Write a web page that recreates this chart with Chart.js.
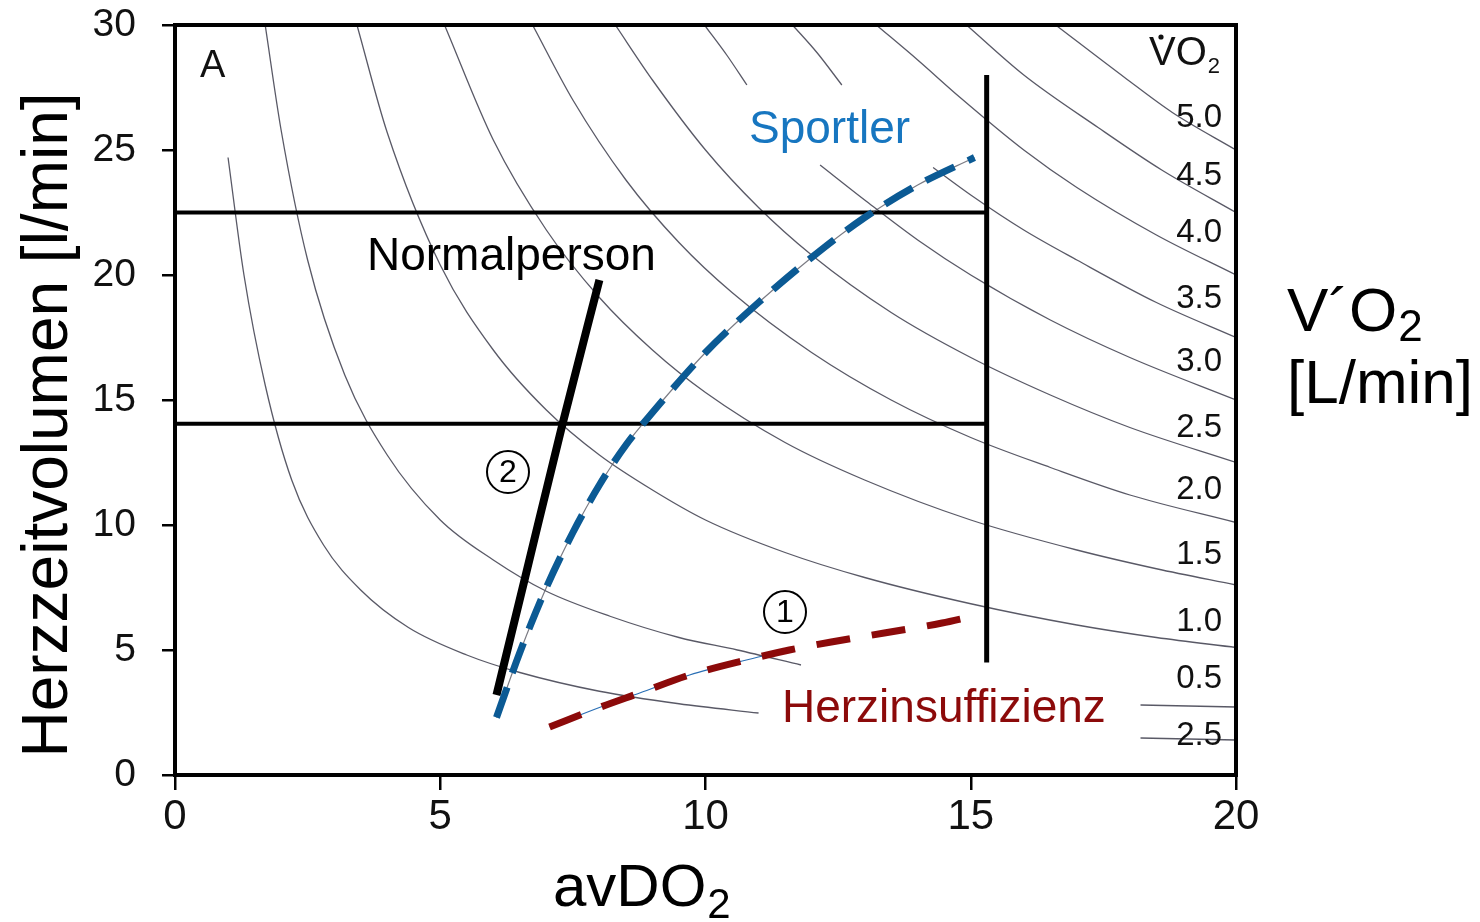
<!DOCTYPE html>
<html>
<head>
<meta charset="utf-8">
<script src="https://cdn.jsdelivr.net/npm/chart.js@4.4.1/dist/chart.umd.min.js"></script>
<style>
  html, body { margin: 0; padding: 0; background: #fff; }
  canvas { display: block; }
</style>
</head>
<body>
<canvas id="chart" width="1480" height="922"></canvas>
<script>
// Axis ticks
const xTicks = [0, 5, 10, 15, 20];
const yTicks = [0, 5, 10, 15, 20, 25, 30];

// VO2 isopleths, [avDO2, HZV]; null = line interrupted
const iso025 = [[1.0, 24.7], [1.3, 20.0], [1.7, 15.6], [2.2, 11.8], [2.8, 9.2], [3.5, 7.4], [4.4, 5.9],
    [5.5, 4.8], [6.5, 4.1], [8.0, 3.35], [9.5, 2.85], [11.0, 2.48], null, [18.2, 1.48], [20, 1.4]];
const iso05 = [[1.7, 30], [2.0, 25.8], [2.5, 20.6], [3.2, 16.0], [4.0, 12.8], [5.0, 10.2], [6.0, 8.6],
    [7.0, 7.35], [8.2, 6.35], [9.5, 5.5], [10.6, 5.0], [11.8, 4.4], null, [18.2, 2.8], [20, 2.72]];
const iso10 = [[3.43, 30], [4.0, 25.7], [5.0, 20.4], [6.0, 17.0], [7.0, 14.6], [8.0, 12.8], [9.0, 11.4],
    [10.0, 10.2], [11.5, 8.9], [13.0, 7.9], [15.0, 6.85], [17.0, 6.0], [18.5, 5.5], [20, 5.1]];
const iso15 = [[5.08, 30], [6.0, 25.4], [7.0, 21.8], [8.0, 19.1], [9.0, 17.0], [10.0, 15.3], [11.5, 13.3],
    [13.0, 11.8], [15.0, 10.2], [17.0, 9.0], [18.5, 8.25], [20, 7.6]];
const iso20 = [[6.74, 30], [7.5, 27.0], [8.5, 23.8], [9.5, 21.3], [10.5, 19.3], [12.0, 16.9], [13.5, 15.0],
    [15.0, 13.5], [16.5, 12.3], [18.0, 11.2], [20, 10.1]];
const iso25 = [[8.3, 30], [9.0, 27.8], [10.0, 25.0], [11.0, 22.7], [12.0, 20.8], [13.5, 18.5], [15.0, 16.7],
    [16.5, 15.2], [18.0, 13.9], [20, 12.5]];
const iso30 = [[9.98, 30], [10.4, 28.8], [10.78, 27.6], null, [12.16, 24.4], [13.0, 23.0], [14.0, 21.4],
    [15.0, 20.0], [16.5, 18.2], [18.0, 16.7], [20, 15.0]];
const iso35 = [[11.64, 30], [12.1, 28.9], [12.57, 27.6], null, [14.29, 24.3], [15.0, 23.2], [16.0, 21.8],
    [17.0, 20.6], [18.5, 18.9], [20, 17.5]];
const iso40 = [[13.22, 30], [14.0, 28.6], [14.8, 27.1], [16.0, 25.0], [17.0, 23.5], [18.5, 21.6], [20, 20.0]];
const iso45 = [[14.92, 30], [16.0, 28.0], [17.4, 25.9], [18.6, 24.2], [20, 22.5]];
const iso50 = [[16.6, 30], [17.9, 27.9], [18.8, 26.5], [20, 25.0]];

// Curves
const normalperson = [[6.06, 3.2], [6.6, 7.9], [7.3, 14.0], [8.0, 19.8]];
const sportler = [[6.06, 2.3], [6.5, 4.9], [7.0, 7.5], [7.5, 9.7], [8.0, 11.6], [8.5, 13.2], [9.0, 14.5],
    [10.0, 16.9], [11.0, 18.9], [12.0, 20.7], [13.0, 22.3], [14.0, 23.6], [15.07, 24.7]];
const herzinsuffizienz = [[7.06, 1.92], [8.0, 2.7], [8.76, 3.28], [9.7, 4.0], [10.77, 4.6], [11.58, 5.0],
    [12.37, 5.32], [13.37, 5.68], [14.46, 6.08], [14.97, 6.32]];

// Limit lines
const hzvMax = [[0, 22.5], [15.3, 22.5]];
const hzvNorm = [[0, 14.05], [15.3, 14.05]];
const avdo2Max = [[15.3, 4.5], [15.3, 28.0]];

// Isopleth labels (right side, top to bottom)
const vo2Labels = ['5.0', '4.5', '4.0', '3.5', '3.0', '2.5', '2.0', '1.5', '1.0', '0.5', '2.5'];

const FONT = "'Liberation Sans', Arial, sans-serif";

function pts(arr) {
    return arr.map(p => p ? { x: p[0], y: p[1] } : { x: null, y: null });
}

function isoSet(arr) {
    return {
        data: pts(arr),
        showLine: true,
        borderColor: 'rgba(60, 60, 75, 0.85)',
        borderWidth: 1.3,
        pointRadius: 0,
        cubicInterpolationMode: 'monotone',
        spanGaps: false,
        order: 10
    };
}

const annotations = {
    id: 'annotations',
    afterDatasetsDraw(chart) {
        const { ctx, chartArea: a } = chart;
        ctx.save();

        // plot frame
        ctx.strokeStyle = '#000';
        ctx.lineWidth = 4;
        ctx.strokeRect(a.left, a.top, a.right - a.left, a.bottom - a.top);

        function text(str, x, y, size, color, align) {
            ctx.font = size + 'px ' + FONT;
            ctx.fillStyle = color || '#000';
            ctx.textAlign = align || 'left';
            ctx.textBaseline = 'alphabetic';
            ctx.fillText(str, x, y);
            return x + ctx.measureText(str).width;
        }

        // panel letter
        text('A', 200, 77, 38, '#111');

        // VO2 header with dot
        let end = text('VO', 1149, 65, 40, '#111');
        text('2', end + 1, 73, 22, '#111');
        ctx.beginPath();
        ctx.arc(1161, 37, 2.6, 0, Math.PI * 2);
        ctx.fillStyle = '#111';
        ctx.fill();

        // isopleth values
        const labelY = [118, 176, 233, 299, 362, 428, 490, 555, 622, 679, 736];
        ctx.font = '33px ' + FONT;
        ctx.fillStyle = '#111';
        ctx.textAlign = 'right';
        ctx.textBaseline = 'middle';
        vo2Labels.forEach((s, i) => ctx.fillText(s, 1222, labelY[i]));

        // curve names
        text('Sportler', 749, 143, 46, '#1776c0');
        text('Normalperson', 367, 270, 46, '#000');
        text('Herzinsuffizienz', 782, 722, 46, '#8c0a0a');

        // circled numbers
        [[508, 472, '2'], [785, 612, '1']].forEach(([cx, cy, s]) => {
            ctx.beginPath();
            ctx.arc(cx, cy, 21, 0, Math.PI * 2);
            ctx.strokeStyle = '#000';
            ctx.lineWidth = 2;
            ctx.stroke();
            ctx.font = '32px ' + FONT;
            ctx.fillStyle = '#000';
            ctx.textAlign = 'center';
            ctx.textBaseline = 'middle';
            ctx.fillText(s, cx, cy + 1);
        });

        // axis titles
        end = text('avDO', 553, 906, 60, '#000');
        text('2', end + 1, 918, 42, '#000');

        ctx.save();
        ctx.translate(67, 425);
        ctx.rotate(-Math.PI / 2);
        text('Herzzeitvolumen [l/min]', 0, 0, 64, '#000', 'center');
        ctx.restore();

        // right side unit
        end = text('V\u00B4O', 1287, 331, 62, '#000');
        text('2', end + 1, 341, 44, '#000');
        text('[L/min]', 1287, 403, 62, '#000');

        ctx.restore();
    }
};

const ctx = document.getElementById('chart').getContext('2d');

new Chart(ctx, {
    type: 'scatter',
    data: {
        datasets: [
            {
                data: pts(sportler),
                showLine: true,
                borderColor: '#0b5a94',
                borderWidth: 7,
                borderDash: [32, 15],
                borderCapStyle: 'butt',
                pointRadius: 0,
                cubicInterpolationMode: 'monotone',
                order: 1
            },
            {
                data: pts(herzinsuffizienz),
                showLine: true,
                borderColor: '#8c0a0a',
                borderWidth: 7,
                borderDash: [34, 22],
                borderCapStyle: 'butt',
                pointRadius: 0,
                cubicInterpolationMode: 'monotone',
                order: 1
            },
            {
                data: pts(normalperson),
                showLine: true,
                borderColor: '#000',
                borderWidth: 8,
                pointRadius: 0,
                cubicInterpolationMode: 'monotone',
                order: 2
            },
            {
                // thin guide lines under the dashed curves
                data: pts(sportler),
                showLine: true,
                borderColor: 'rgba(90, 90, 100, 0.8)',
                borderWidth: 1.2,
                pointRadius: 0,
                cubicInterpolationMode: 'monotone',
                order: 3
            },
            {
                data: pts(herzinsuffizienz.slice(0, 6)),
                showLine: true,
                borderColor: '#2a6fb5',
                borderWidth: 1.2,
                pointRadius: 0,
                cubicInterpolationMode: 'monotone',
                order: 3
            },
            { data: pts(hzvMax), showLine: true, borderColor: '#000', borderWidth: 4, pointRadius: 0, order: 4 },
            { data: pts(hzvNorm), showLine: true, borderColor: '#000', borderWidth: 4, pointRadius: 0, order: 4 },
            { data: pts(avdo2Max), showLine: true, borderColor: '#000', borderWidth: 5, pointRadius: 0, order: 4 },
            isoSet(iso025), isoSet(iso05), isoSet(iso10), isoSet(iso15), isoSet(iso20), isoSet(iso25),
            isoSet(iso30), isoSet(iso35), isoSet(iso40), isoSet(iso45), isoSet(iso50)
        ]
    },
    options: {
        responsive: false,
        animation: false,
        devicePixelRatio: 1,
        layout: {
            padding: { left: 0, top: 25, right: 244, bottom: 0 }
        },
        plugins: {
            legend: { display: false },
            tooltip: { enabled: false }
        },
        scales: {
            x: {
                type: 'linear',
                min: 0,
                max: 20,
                afterFit: scale => {
                    scale.height = 147;
                    scale.paddingLeft = 0;
                    scale.paddingRight = 0;
                },
                afterBuildTicks: scale => { scale.ticks = xTicks.map(v => ({ value: v })); },
                border: { display: false },
                grid: {
                    drawOnChartArea: false,
                    drawTicks: true,
                    tickLength: 15,
                    lineWidth: 2.5,
                    color: '#000'
                },
                ticks: {
                    padding: 2,
                    color: '#111',
                    maxRotation: 0,
                    font: { family: FONT, size: 42 }
                }
            },
            y: {
                type: 'linear',
                min: 0,
                max: 30,
                afterFit: scale => {
                    scale.width = 175;
                    scale.paddingTop = 0;
                    scale.paddingBottom = 0;
                },
                afterBuildTicks: scale => { scale.ticks = yTicks.map(v => ({ value: v })); },
                border: { display: false },
                grid: {
                    drawOnChartArea: false,
                    drawTicks: true,
                    tickLength: 13,
                    lineWidth: 2.5,
                    color: '#000'
                },
                ticks: {
                    padding: 26,
                    color: '#111',
                    font: { family: FONT, size: 39 }
                }
            }
        }
    },
    plugins: [annotations]
});
</script>
</body>
</html>
